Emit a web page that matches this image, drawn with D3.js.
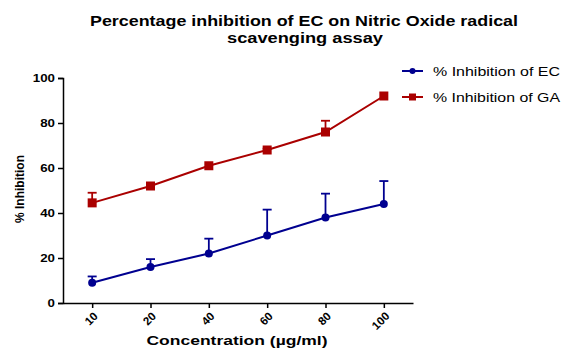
<!DOCTYPE html>
<html>
<head>
<meta charset="utf-8">
<script src="https://cdn.jsdelivr.net/npm/d3@7"></script>
<style>
  body { margin: 0; background: #fff; }
  text { font-family: "Liberation Sans", Arial, sans-serif; font-weight: bold; }
</style>
</head>
<body>
<script>
// chart data
let concentrations = ["10", "20", "40", "60", "80", "100"];
let ecValues = [9, 16, 22, 30, 38, 44];
let ecErrors = [2.8, 3.5, 6.6, 11.5, 10.6, 10.2];
let gaValues = [44.5, 52, 61, 68, 76, 92];
let gaErrors = [4.5, 0, 0, 0.6, 5, 0];
let yTicks = [0, 20, 40, 60, 80, 100];

window.onload = function() {
    let width = 563;
    let height = 352;
    let left = 63, right = 413, top = 78, bottom = 303;

    let svg = d3.select("body")
        .append("svg")
        .attr("width", width)
        .attr("height", height);

    let x = d3.scalePoint()
        .domain(concentrations)
        .range([left, right])
        .padding(0.5);

    let y = d3.scaleLinear()
        .domain([0, 100])
        .range([bottom, top]);

    // the original text is a bit wider than Liberation Sans, so stretch it
    function stretch(sel, len) {
        sel.attr("textLength", len).attr("lengthAdjust", "spacingAndGlyphs");
    }

    // title
    svg.append("text")
        .attr("x", 304).attr("y", 26)
        .attr("text-anchor", "middle")
        .style("font-size", "14px")
        .text("Percentage inhibition of EC on Nitric Oxide radical")
        .call(stretch, 428);
    svg.append("text")
        .attr("x", 305).attr("y", 43)
        .attr("text-anchor", "middle")
        .style("font-size", "14px")
        .text("scavenging assay")
        .call(stretch, 156);

    // y axis
    let yAxis = svg.append("g")
        .attr("transform", "translate(" + left + ",0)")
        .call(d3.axisLeft(y).tickValues(yTicks).tickSize(5).tickPadding(3));
    yAxis.selectAll("text")
        .style("font-size", "11.5px")
        .attr("fill", "#000")
        .each(function(d) {
            d3.select(this).call(stretch, String(d).length * 7.4);
        });
    yAxis.selectAll("path, line").attr("stroke", "#000").attr("stroke-width", 1.5);

    // x axis
    let xAxis = svg.append("g")
        .attr("transform", "translate(0," + bottom + ")")
        .call(d3.axisBottom(x).tickSize(5).tickSizeOuter(0));
    xAxis.selectAll("path, line").attr("stroke", "#000").attr("stroke-width", 1.5);
    xAxis.selectAll("text")
        .style("font-size", "11.5px")
        .attr("fill", "#000")
        .attr("text-anchor", "end")
        .attr("x", 0)
        .attr("y", 0)
        .attr("dy", "0.35em")
        .attr("transform", "translate(3,11) rotate(-45)");

    // axis titles
    svg.append("text")
        .attr("x", 237).attr("y", 345)
        .attr("text-anchor", "middle")
        .style("font-size", "13px")
        .text("Concentration  (\u00b5g/ml)")
        .call(stretch, 181);

    svg.append("text")
        .attr("transform", "translate(24,189) rotate(-90)")
        .attr("text-anchor", "middle")
        .style("font-size", "13px")
        .text("% Inhibition")
        .call(stretch, 68);

    let series = [
        { name: "% Inhibition of EC", values: ecValues, errors: ecErrors, color: "#000090", shape: "circle" },
        { name: "% Inhibition of GA", values: gaValues, errors: gaErrors, color: "#aa0000", shape: "square" }
    ];

    let line = d3.line()
        .x((d, i) => x(concentrations[i]))
        .y(d => y(d));

    series.forEach(function(s, k) {
        let g = svg.append("g");

        // error bars (upper only)
        s.errors.forEach(function(e, i) {
            if (e <= 0) return;
            let cx = x(concentrations[i]);
            g.append("line")
                .attr("x1", cx).attr("x2", cx)
                .attr("y1", y(s.values[i])).attr("y2", y(s.values[i] + e))
                .attr("stroke", s.color).attr("stroke-width", 1.8);
            g.append("line")
                .attr("x1", cx - 4.5).attr("x2", cx + 4.5)
                .attr("y1", y(s.values[i] + e)).attr("y2", y(s.values[i] + e))
                .attr("stroke", s.color).attr("stroke-width", 1.8);
        });

        g.append("path")
            .datum(s.values)
            .attr("d", line)
            .attr("fill", "none")
            .attr("stroke", s.color)
            .attr("stroke-width", 2);

        s.values.forEach(function(v, i) {
            let cx = x(concentrations[i]), cy = y(v);
            if (s.shape === "circle") {
                g.append("circle").attr("cx", cx).attr("cy", cy).attr("r", 4).attr("fill", s.color);
            } else {
                g.append("rect").attr("x", cx - 4.5).attr("y", cy - 4.5)
                    .attr("width", 9).attr("height", 9).attr("fill", s.color);
            }
        });

        // legend
        let ly = 71 + k * 26;
        let lg = svg.append("g");
        lg.append("line").attr("x1", 402).attr("x2", 423).attr("y1", ly).attr("y2", ly)
            .attr("stroke", s.color).attr("stroke-width", 2);
        if (s.shape === "circle") {
            lg.append("circle").attr("cx", 412.5).attr("cy", ly).attr("r", 3).attr("fill", s.color);
        } else {
            lg.append("rect").attr("x", 409).attr("y", ly - 3.5).attr("width", 7).attr("height", 7).attr("fill", s.color);
        }
        lg.append("text")
            .attr("x", 433).attr("y", ly + 4.5)
            .style("font-size", "12px")
            .style("font-weight", "normal")
            .text(s.name)
            .call(stretch, 127);
    });
};
</script>
</body>
</html>
